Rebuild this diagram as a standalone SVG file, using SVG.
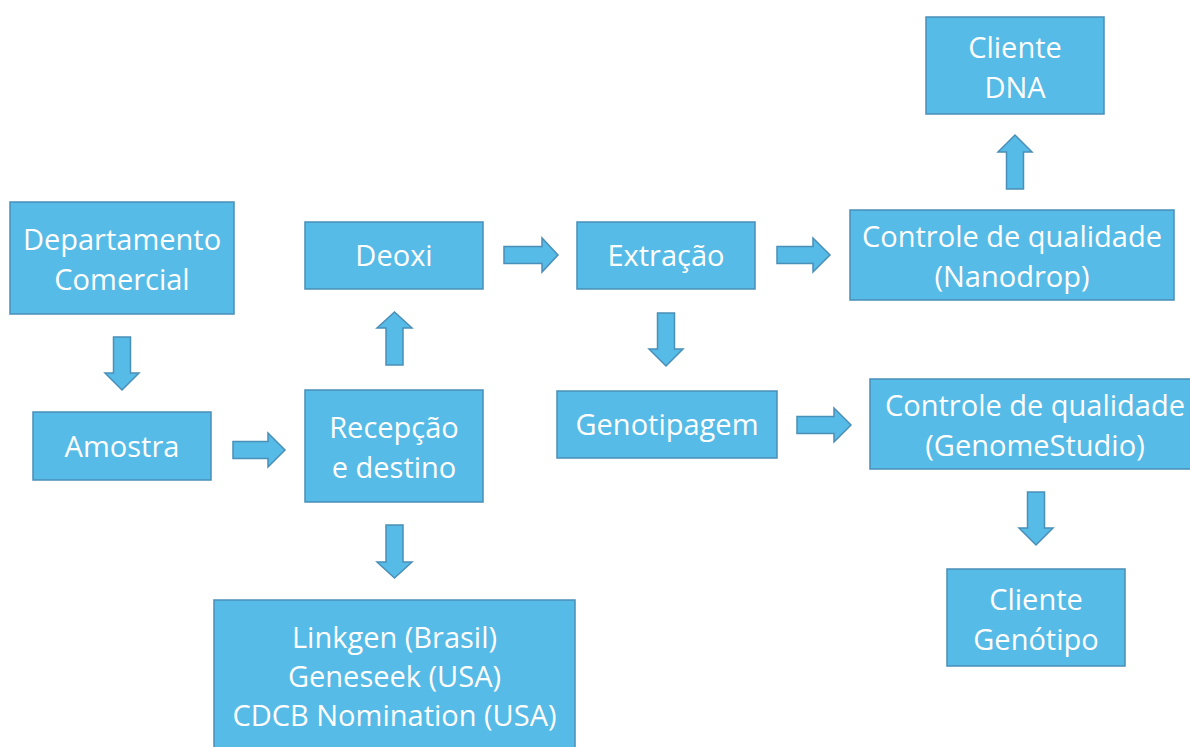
<svg xmlns="http://www.w3.org/2000/svg" width="1190" height="747" viewBox="0 0 1190 747">
<style>
.box{fill:#56BBE6;stroke:#4A8FB8;stroke-width:1.5}
.arr{fill:#56BBE6;stroke:#4A8FB8;stroke-width:1.5;stroke-linejoin:miter}
text{font-family:"Open Sans","Liberation Sans",sans-serif;font-size:29px;fill:#FFFFFF;text-anchor:middle}
</style>
<rect width="1190" height="747" fill="#FFFFFF"/>
<g id="connectors">
<polygon class="arr" points="113.5,337 130.5,337 130.5,373 139,373 122,390 105,373 113.5,373"/>
<polygon class="arr" points="233,441.5 268,441.5 268,433 285,450 268,467 268,458.5 233,458.5"/>
<polygon class="arr" points="386,365 403,365 403,328 412,328 394.5,312 377,328 386,328"/>
<polygon class="arr" points="386,525 403,525 403,562 412,562 394.5,578 377,562 386,562"/>
<polygon class="arr" points="504,246.5 542,246.5 542,238 558,255 542,272 542,263.5 504,263.5"/>
<polygon class="arr" points="777,246.5 813,246.5 813,238 830,255 813,272 813,263.5 777,263.5"/>
<polygon class="arr" points="1006.5,189 1023.5,189 1023.5,152 1032,152 1015,135 998,152 1006.5,152"/>
<polygon class="arr" points="657.5,313 674.5,313 674.5,349 683,349 666,366 649,349 657.5,349"/>
<polygon class="arr" points="797,416.5 834,416.5 834,408 851,425 834,442 834,433.5 797,433.5"/>
<polygon class="arr" points="1027.5,492 1044.5,492 1044.5,528 1053,528 1036,545 1019,528 1027.5,528"/>
</g>
<g id="dept"><rect class="box" x="10" y="202" width="224" height="112"/><text x="122" y="250">Departamento</text><text x="122" y="290">Comercial</text></g>
<g id="amostra"><rect class="box" x="33" y="412" width="178" height="68"/><text x="122" y="457">Amostra</text></g>
<g id="recepcao"><rect class="box" x="305" y="390" width="178" height="112"/><text x="394" y="438">Recepção</text><text x="394" y="478">e destino</text></g>
<g id="deoxi"><rect class="box" x="305" y="222" width="178" height="67"/><text x="394" y="266">Deoxi</text></g>
<g id="extracao"><rect class="box" x="577" y="222" width="178" height="67"/><text x="666" y="266">Extração</text></g>
<g id="nanodrop"><rect class="box" x="850" y="210" width="324" height="90"/><text x="1012" y="247">Controle de qualidade</text><text x="1012" y="287">(Nanodrop)</text></g>
<g id="clientedna"><rect class="box" x="926" y="17" width="178" height="97"/><text x="1015" y="58">Cliente</text><text x="1015" y="98">DNA</text></g>
<g id="genotipagem"><rect class="box" x="557" y="391" width="220" height="67"/><text x="667" y="435">Genotipagem</text></g>
<g id="genomestudio"><rect class="box" x="870" y="379" width="330" height="90"/><text x="1035" y="416">Controle de qualidade</text><text x="1035" y="456">(GenomeStudio)</text></g>
<g id="clientegenotipo"><rect class="box" x="947" y="569" width="178" height="97"/><text x="1036" y="610">Cliente</text><text x="1036" y="650">Genótipo</text></g>
<g id="labs"><rect class="box" x="214" y="600" width="361" height="160"/><text x="394.5" y="648">Linkgen (Brasil)</text><text x="394.5" y="687">Geneseek (USA)</text><text x="394.5" y="726">CDCB Nomination (USA)</text></g>
</svg>
